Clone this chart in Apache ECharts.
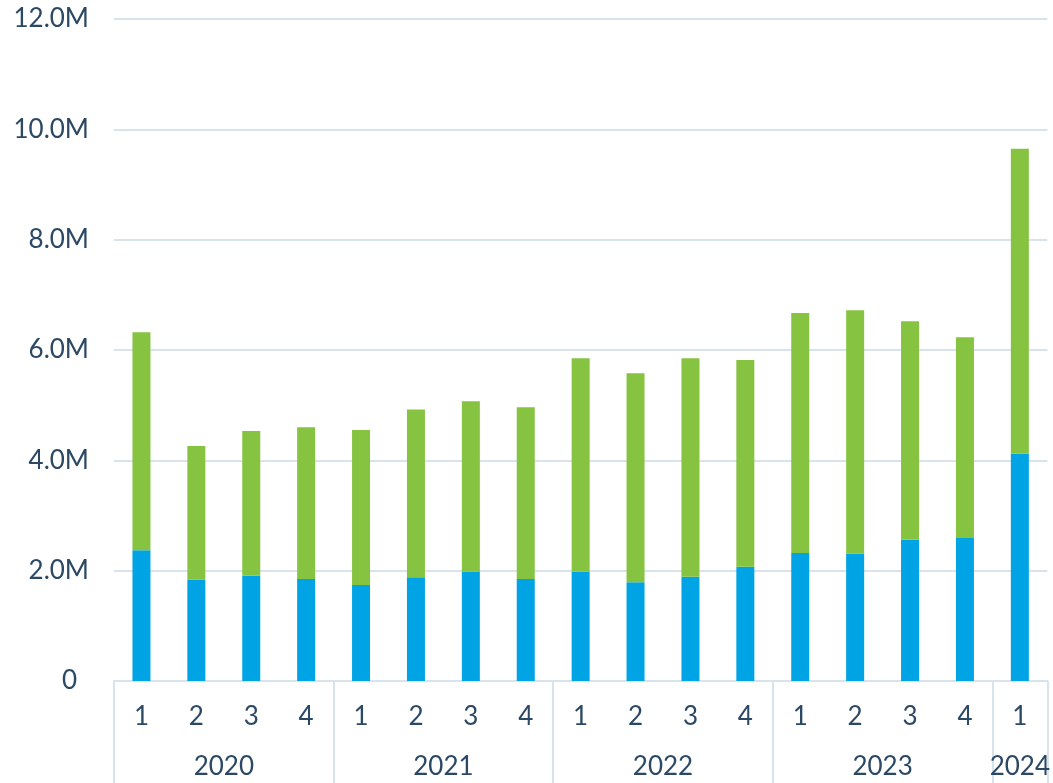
<!DOCTYPE html>
<html>
<head>
<meta charset="utf-8">
<script src="https://cdn.jsdelivr.net/npm/echarts@6/dist/echarts.min.js"></script>
<style>
  html, body { margin: 0; padding: 0; background: #fff; }
  #chart { width: 1053px; height: 783px; }
</style>
</head>
<body>
<div id="chart"></div>
<script>
'use strict';
// quarters and the year each one belongs to
var quarters = ['1', '2', '3', '4', '1', '2', '3', '4', '1', '2', '3', '4', '1', '2', '3', '4', '1'];
var years = ['2020', '2021', '2022', '2023', '2024'];
// where each year label sits, in bar units from the left edge
var yearCenters = [2, 6, 10, 14, 16.5];
// values in millions
var blueValues = [2.37, 1.84, 1.91, 1.85, 1.74, 1.88, 1.98, 1.85, 1.98, 1.79, 1.89, 2.07, 2.32, 2.31, 2.56, 2.59, 4.12];
var greenValues = [3.95, 2.42, 2.62, 2.75, 2.81, 3.04, 3.09, 3.11, 3.87, 3.79, 3.96, 3.75, 4.35, 4.41, 3.96, 3.64, 5.53];

var textColor = '#2b4865';
var lineColor = '#d9e3ec';
var font = 'Lato';
var fontSize = 26;

var chart = echarts.init(document.getElementById('chart'));

chart.setOption({
  animation: false,
  grid: { left: 114, right: 5, top: 19, bottom: 102, containLabel: false },
  xAxis: [{
    type: 'category',
    data: quarters,
    axisLine: { lineStyle: { color: lineColor, width: 2 } },
    axisTick: {
      show: true,
      length: 104,
      interval: function (index) {
        return index % 4 === 0;
      },
      lineStyle: { color: lineColor, width: 2 }
    },
    axisLabel: { interval: 0, margin: 23, color: textColor, fontSize: fontSize, fontFamily: font }
  }, {
    type: 'value',
    min: 0,
    max: quarters.length,
    interval: 0.5,
    position: 'bottom',
    axisLine: { show: false },
    axisTick: { show: false },
    splitLine: { show: false },
    axisLabel: {
      margin: 73,
      color: textColor,
      fontSize: fontSize,
      fontFamily: font,
      showMinLabel: true,
      showMaxLabel: true,
      formatter: function (v) {
        var i = yearCenters.indexOf(v);
        return i >= 0 ? years[i] : '';
      }
    }
  }],
  yAxis: {
    type: 'value',
    min: 0,
    max: 12,
    interval: 2,
    axisLine: { show: false },
    axisTick: { show: false },
    splitLine: { lineStyle: { color: lineColor, width: 2 } },
    axisLabel: {
      margin: 25,
      color: textColor,
      fontSize: fontSize,
      fontFamily: font,
      formatter: function (v) {
        return v === 0 ? '{z|0}' : v.toFixed(1) + 'M';
      },
      rich: {
        z: { color: textColor, fontSize: fontSize, fontFamily: font, padding: [0, 12, 0, 0] }
      }
    }
  },
  series: [{
    name: 'blue',
    type: 'bar',
    stack: 'total',
    barWidth: 18,
    data: blueValues,
    itemStyle: { color: '#00a4e4' }
  }, {
    name: 'green',
    type: 'bar',
    stack: 'total',
    barWidth: 18,
    data: greenValues,
    itemStyle: { color: '#86c341' }
  }]
});
</script>
</body>
</html>
